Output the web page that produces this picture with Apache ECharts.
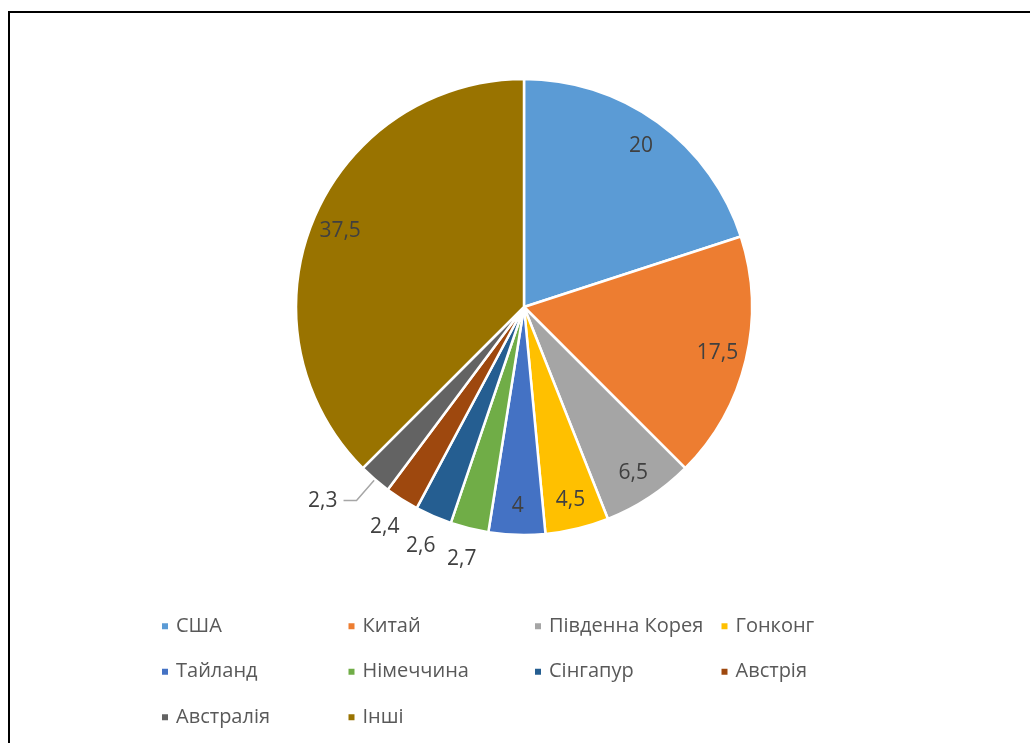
<!DOCTYPE html>
<html>
<head>
<meta charset="utf-8">
<script src="https://cdn.jsdelivr.net/npm/echarts@6/dist/echarts.min.js"></script>
<style>
  html, body { margin: 0; padding: 0; background: #fff; }
  #chart { width: 1030px; height: 743px; }
</style>
</head>
<body>
<div id="chart"></div>
<script>
// ---- data ----
const categories = ['США', 'Китай', 'Південна Корея', 'Гонконг', 'Тайланд', 'Німеччина', 'Сінгапур', 'Австрія', 'Австралія', 'Інші'];
const shares = [20, 17.5, 6.5, 4.5, 4, 2.7, 2.6, 2.4, 2.3, 37.5];
const sliceColors = ['#5B9BD5', '#ED7D31', '#A5A5A5', '#FFC000', '#4472C4', '#70AD47', '#255E91', '#9E480E', '#636363', '#997300'];
// how each value label is placed: inside the slice, just outside, or with a leader line
const labelMode = ['inner', 'inner', 'inner', 'inner', 'inner', 'ring', 'ring', 'ring', 'leader', 'inner'];

const FONT = '"Open Sans", "Noto Sans", sans-serif';
const fmt = v => String(v).replace('.', ',');
const CENTER = [524, 307];
const R = 228;

const chart = echarts.init(document.getElementById('chart'), null, { renderer: 'canvas' });

const baseLabel = { fontFamily: FONT, fontSize: 21, color: '#404040', formatter: p => fmt(p.value) };

// main slices
const mainData = categories.map((name, i) => ({
  name, value: shares[i],
  itemStyle: { color: sliceColors[i] },
  label: labelMode[i] === 'leader' ? { show: true } : { show: false },
  labelLine: { show: labelMode[i] === 'leader' }
}));

// transparent overlay rings used only to place the value labels radially
const overlay = (mode) => categories.map((name, i) => ({
  name, value: shares[i],
  label: { show: labelMode[i] === mode }
}));

const overlayCommon = {
  type: 'pie', center: CENTER, startAngle: 90, clockwise: true, silent: true,
  itemStyle: { color: 'rgba(0,0,0,0)', borderWidth: 0 },
  emphasis: { disabled: true }, tooltip: { show: false },
  labelLine: { show: false }, animation: false
};

chart.setOption({
  animation: false,
  graphic: [{
    type: 'rect', silent: true,
    shape: { x: 9, y: 12, width: 1050, height: 780 },
    style: { fill: 'none', stroke: '#000', lineWidth: 2 }
  }],
  legend: {
    data: categories, left: 160, top: 611, width: 760, orient: 'horizontal', padding: 0,
    icon: 'rect', itemWidth: 8, itemHeight: 8, itemGap: 15, selectedMode: false,
    textStyle: { fontFamily: FONT, fontSize: 20, color: '#595959', width: 155.5, lineHeight: 30.5, padding: [0, 0, 0, 2] }
  },
  series: [
    {
      type: 'pie', name: 'main', center: CENTER, radius: [0, R], startAngle: 90, clockwise: true,
      avoidLabelOverlap: false,
      itemStyle: { borderColor: '#fff', borderWidth: 2.5 },
      label: Object.assign({}, baseLabel, { position: 'outside', distanceToLabelLine: 6 }),
      labelLine: { length: 28, length2: 13, smooth: false, lineStyle: { color: '#A6A6A6', width: 1.5 } },
      emphasis: { disabled: true },
      data: mainData
    },
    Object.assign({}, overlayCommon, {
      name: 'innerLabels', radius: [164, R],
      label: Object.assign({}, baseLabel, { position: 'inside' }),
      data: overlay('inner')
    }),
    Object.assign({}, overlayCommon, {
      name: 'ringLabels', radius: [236, 278],
      label: Object.assign({}, baseLabel, { position: 'inside' }),
      data: overlay('ring')
    })
  ]
});
</script>
</body>
</html>
